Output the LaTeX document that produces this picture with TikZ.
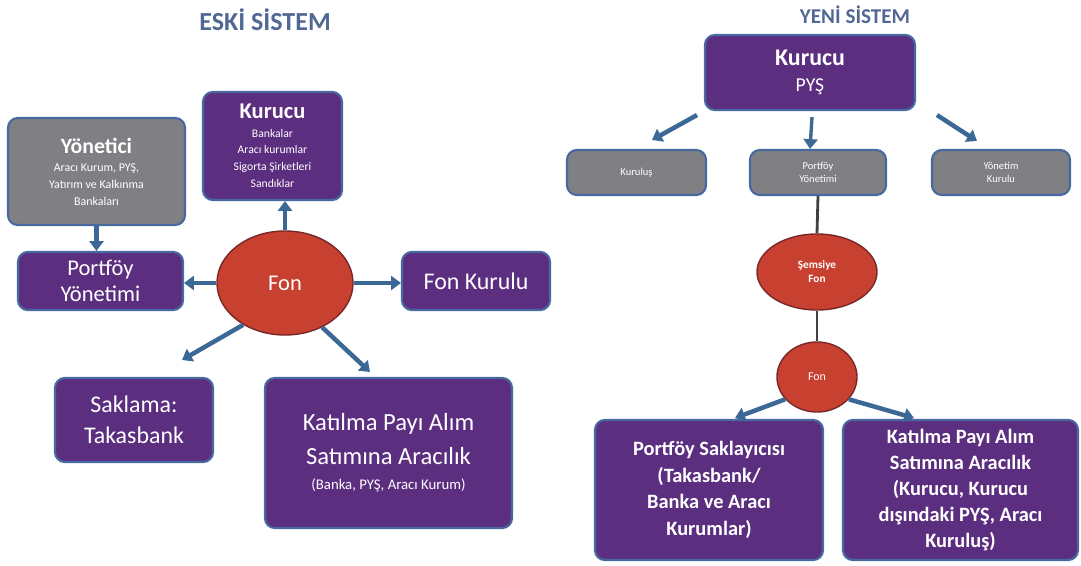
\documentclass[tikz,border=0pt]{standalone}
\usepackage{fontspec}
\setmainfont{Carlito}
\usetikzlibrary{shapes.geometric,arrows.meta}
\definecolor{boxpurple}{RGB}{92,46,128}
\definecolor{boxgrey}{RGB}{128,128,132}
\definecolor{boxedge}{RGB}{72,104,160}
\definecolor{fonred}{RGB}{200,64,48}
\definecolor{fonedge}{RGB}{120,40,40}
\definecolor{arrowblue}{RGB}{60,104,150}
\definecolor{titleblue}{RGB}{82,104,148}
\newcommand{\fs}[2]{\fontsize{#1}{#2}\selectfont}
\begin{document}
\begin{tikzpicture}[
        x=0.025cm, y=-0.025cm,
        purplebox/.style={rectangle, draw=boxedge, line width=1.5pt, fill=boxpurple, rounded corners=7pt, text=white, align=center, inner sep=1pt},
        greybox/.style={purplebox, fill=boxgrey},
        fonnode/.style={ellipse, draw=fonedge, line width=1pt, fill=fonred, text=white, align=center, inner sep=0pt},
        title/.style={text=titleblue, font=\bfseries\fs{15}{18}},
        link/.style={draw=arrowblue, line width=3.2pt, -{Triangle[length=7pt,width=10pt]}},
        bond/.style={draw=black!75, line width=2pt}
    ]
        \useasboundingbox (0,0) rectangle (1081,566);

        % Eski sistem
        \node[title, font=\bfseries\fs{18.5}{20}] (eskiTitle) at (265,20) {ESKİ SİSTEM};

        \node[purplebox, minimum width=3.475cm, minimum height=2.7cm] (kurucuL) at (272.5,146)
            {{\bfseries\fs{16}{18}Kurucu}\\[1pt] \fs{8.3}{11}Bankalar\\ \fs{8.3}{11}Aracı kurumlar\\ \fs{8.3}{11}Sigorta Şirketleri\\ \fs{8.3}{11}Sandıklar};
        \node[greybox, minimum width=4.425cm, minimum height=2.675cm] (yonetici) at (96.5,171.5)
            {{\bfseries\fs{15.5}{18}Yönetici}\\[1pt] \fs{8.5}{10.5}Aracı Kurum, PYŞ,\\ \fs{8.5}{10.5}Yatırım ve Kalkınma\\ \fs{8.5}{10.5}Bankaları};
        \node[purplebox, minimum width=4.125cm, minimum height=1.45cm, font=\fs{16}{18}] (portfoyL) at (100.5,281) {Portföy\\Yönetimi};
        \node[fonnode, minimum width=3.4cm, minimum height=2.6cm, font=\fs{16}{18}] (fonL) at (285,283) {Fon};
        \node[purplebox, minimum width=3.7cm, minimum height=1.45cm, font=\fs{17}{19}] (fonKurulu) at (476,281) {Fon Kurulu};
        \node[purplebox, minimum width=3.95cm, minimum height=2.1cm, font=\fs{17}{22}] (saklama) at (134,420) {Saklama:\\Takasbank};
        \node[purplebox, minimum width=6.175cm, minimum height=3.75cm, font=\fs{17.5}{24}] (katilmaL) at (388.5,453)
            {Katılma Payı Alım\\Satımına Aracılık\\[-6pt]{\fs{10.5}{13}(Banka, PYŞ, Aracı Kurum)}};

        \coordinate (tipSaklama) at (182,360);
        \coordinate (tipKatilma) at (370,372);

        \draw[link] (yonetici.south) -- (yonetici.south |- portfoyL.north);
        \draw[link] (fonL.north) -- (fonL.north |- kurucuL.south);
        \draw[link] (fonL.west) -- (fonL.west -| portfoyL.east);
        \draw[link] (fonL.east) -- (fonL.east -| fonKurulu.west);
        \draw[link] (fonL.225) -- (tipSaklama);
        \draw[link] (fonL.-50) -- (tipKatilma);

        % Yeni sistem
        \node[title] (yeniTitle) at (855,15) {YENİ SİSTEM};

        \node[purplebox, minimum width=5.25cm, minimum height=1.875cm] (kurucuR) at (810,72.5)
            {{\bfseries\fs{17}{20}Kurucu}\\[7pt] \fs{14}{16}PYŞ};
        \node[greybox, minimum width=3.475cm, minimum height=1.125cm, font=\fs{7.5}{9}] (kurulus) at (636.5,172.5) {Kuruluş};
        \node[greybox, minimum width=3.4cm, minimum height=1.125cm, font=\fs{7.5}{9}] (portfoyR) at (818,172.5) {Portföy\\Yönetimi};
        \node[greybox, minimum width=3.45cm, minimum height=1.125cm, font=\fs{7.5}{9}] (yonetim) at (1001,172.5) {Yönetim\\Kurulu};
        \node[fonnode, minimum width=3cm, minimum height=1.9cm, font=\bfseries\fs{8}{10}] (semsiye) at (817,272) {Şemsiye\\Fon};
        \node[fonnode, minimum width=2cm, minimum height=1.75cm, font=\fs{8.5}{10}] (fonR) at (817,377) {Fon};
        \node[purplebox, minimum width=5.7cm, minimum height=3.5cm, font=\bfseries\fs{14.5}{19}] (saklayici) at (709,490)
            {Portföy Saklayıcısı\\(Takasbank/\\Banka ve Aracı\\Kurumlar)};
        \node[purplebox, minimum width=5.875cm, minimum height=3.5cm, font=\bfseries\fs{14.5}{18.5}] (katilmaR) at (960.5,490)
            {Katılma Payı Alım\\Satımına Aracılık\\(Kurucu, Kurucu\\dışındaki PYŞ, Aracı\\Kuruluş)};

        \coordinate (tipKurulus) at (652,140);
        \coordinate (tipYonetim) at (977,141);
        \coordinate (tipSaklayici) at (735,418);
        \coordinate (tipKatilmaR) at (914,418);

        \draw[link] (kurucuR.south) ++(-113,4) -- (tipKurulus);
        \draw[link, line width=2.4pt] (kurucuR.south) ++(2,6) -- (kurucuR.south |- portfoyR.north);
        \draw[link] (kurucuR.south) ++(127,4) -- (tipYonetim);
        \draw[bond] (portfoyR.south) -- (semsiye.north);
        \draw[bond] (semsiye.south) -- (fonR.north);
        \draw[link] (fonR.215) -- (tipSaklayici);
        \draw[link] (fonR.-35) -- (tipKatilmaR);
    \end{tikzpicture}
\end{document}
